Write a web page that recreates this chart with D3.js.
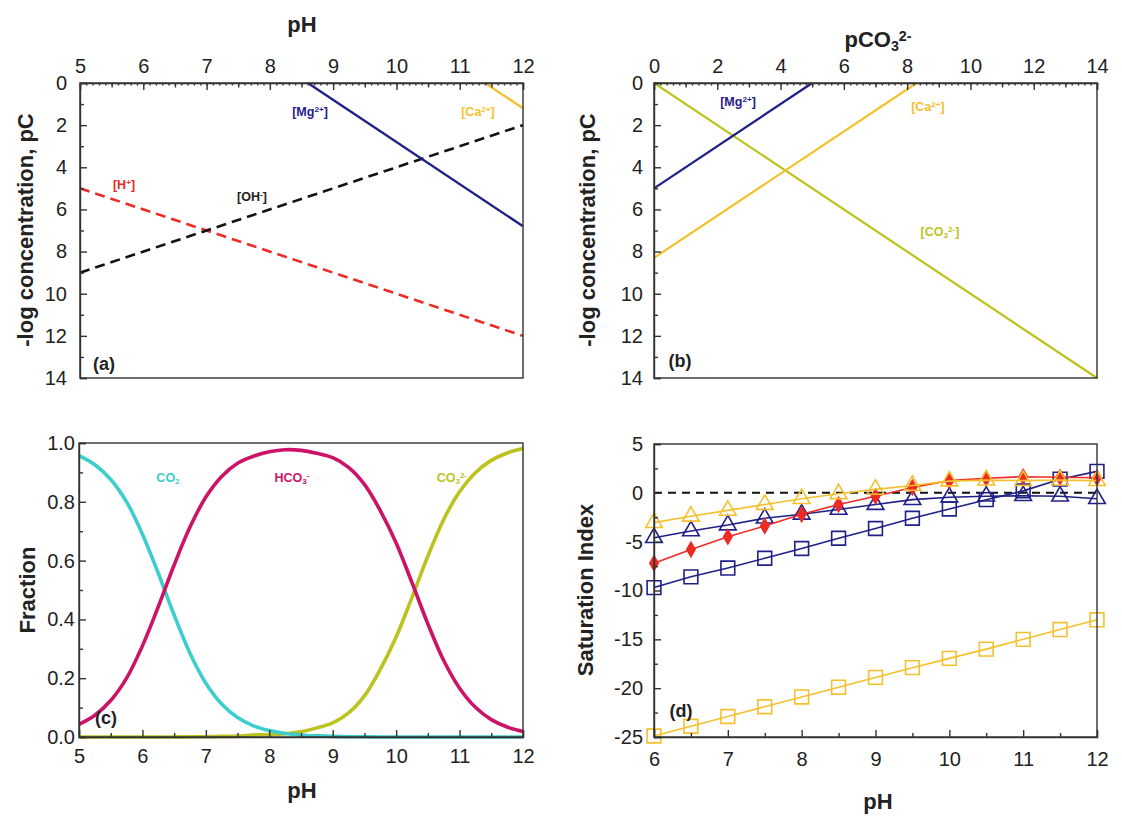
<!DOCTYPE html>
<html>
<head>
<meta charset="utf-8">
<script src="https://cdn.jsdelivr.net/npm/d3@7"></script>
<style>
  body { margin: 0; background: #fff; }
  svg { font-family: "Liberation Sans", Arial, sans-serif; }
  .tick text { font-size: 20px; fill: #222; }
  .domain, .tick line { stroke: #333; stroke-width: 1.4px; }
</style>
</head>
<body>
<svg id="fig" width="1122" height="817"></svg>
<script>
// panel (a): pC vs pH, line end points [pH, pC]
var aH   = [[5, 5], [12, 12]];
var aOH  = [[5, 9], [12, 2]];
var aMg  = [[8.6, 0], [12, 6.8]];
var aCa  = [[11.4, 0], [12, 1.2]];

// panel (b): pC vs pCO3
var bMg  = [[0, 5], [5, 0]];
var bCa  = [[0, 8.3], [8.3, 0]];
var bCO3 = [[0, 0], [14, 14]];

// panel (c): carbonate fractions
var pHc = [5, 5.25, 5.5, 5.75, 6, 6.25, 6.5, 6.75, 7, 7.25, 7.5, 7.75, 8, 8.25, 8.5,
           8.75, 9, 9.25, 9.5, 9.75, 10, 10.25, 10.5, 10.75, 11, 11.25, 11.5, 11.75, 12];
var fCO2  = [0.957, 0.926, 0.876, 0.80, 0.69, 0.557, 0.415, 0.285, 0.183, 0.112, 0.066, 0.038, 0.022, 0.012, 0.007,
             0.004, 0.002, 0.001, 0.001, 0, 0, 0, 0, 0, 0, 0, 0, 0, 0];
var fHCO3 = [0.043, 0.074, 0.124, 0.20, 0.31, 0.443, 0.585, 0.714, 0.816, 0.886, 0.931, 0.955, 0.970, 0.977, 0.975,
             0.965, 0.950, 0.917, 0.859, 0.770, 0.660, 0.525, 0.385, 0.260, 0.166, 0.101, 0.059, 0.034, 0.019];
var fCO3  = [0, 0, 0, 0, 0, 0, 0, 0.001, 0.001, 0.002, 0.003, 0.007, 0.008, 0.011, 0.018,
             0.031, 0.048, 0.082, 0.140, 0.230, 0.340, 0.475, 0.615, 0.740, 0.834, 0.899, 0.941, 0.966, 0.981];

// panel (d): saturation index
var pHd = [6, 6.5, 7, 7.5, 8, 8.5, 9, 9.5, 10, 10.5, 11, 11.5, 12];
var siGoldTri = [-3.05, -2.4, -1.8, -1.2, -0.6, -0.1, 0.35, 0.75, 1.2, 1.3, 1.25, 1.3, 1.25];
var siRedDia  = [-7.2, -5.8, -4.5, -3.4, -2.2, -1.2, -0.35, 0.55, 1.25, 1.5, 1.65, 1.6, 1.55];
var siNavyTri = [-4.6, -3.9, -3.3, -2.6, -2.2, -1.7, -1.2, -0.7, -0.45, -0.35, -0.3, -0.35, -0.6];
var siNavySq  = [-9.7, -8.6, -7.7, -6.7, -5.7, -4.65, -3.65, -2.6, -1.65, -0.7, 0.2, 1.4, 2.2];
var siGoldSq  = [-24.9, -23.9, -22.9, -21.9, -20.9, -19.9, -18.9, -17.9, -16.95, -16.0, -15.0, -14.0, -13.0];

var navy = '#1f2088', gold = '#f5c02e', red = '#ee2a24', olive = '#bcc31e',
    cyan = '#3ecdcd', magenta = '#cc1368';

var svg = d3.select('#fig');

// plain hyphen for negatives, like the original figure
function intFmt(v) { return String(Math.round(v)); }

function axisPair(g, axisFn, scale, majors, minors, pad, fmt, mids) {
  g.append('g').call(axisFn(scale).tickValues(majors).tickSize(-7).tickPadding(pad).tickFormat(fmt));
  if (mids) {
    g.append('g').call(axisFn(scale).tickValues(mids).tickSize(-4.5).tickFormat(''))
      .select('.domain').remove();
  }
  g.append('g').call(axisFn(scale).tickValues(minors).tickSize(mids ? -2.5 : -4).tickFormat(''))
    .select('.domain').remove();
}

function range(a, b, s) {
  var out = [];
  for (var v = a; v <= b + 1e-9; v += s) out.push(+v.toFixed(4));
  return out;
}

function frame(x0, y0, x1, y1) {
  svg.append('rect')
    .attr('x', x0).attr('y', y0).attr('width', x1 - x0).attr('height', y1 - y0)
    .attr('fill', 'none').attr('stroke', '#333').attr('stroke-width', 1.4);
}

// rich text with sub/superscripts
function rich(x, y, parts, color, size, anchor, rotate) {
  var t = svg.append('text')
    .attr('x', x).attr('y', y)
    .attr('fill', color).attr('font-size', size).attr('font-weight', 'bold')
    .attr('text-anchor', anchor || 'middle');
  if (rotate) t.attr('transform', 'rotate(-90,' + x + ',' + y + ')');
  parts.forEach(function(p) {
    var s = t.append('tspan').text(p[0]);
    if (p[1] === 'sup') s.attr('font-size', size * 0.65).attr('baseline-shift', '45%');
    if (p[1] === 'sub') s.attr('font-size', size * 0.65).attr('baseline-shift', '-25%');
  });
  return t;
}

function drawLine(g, pts, x, y, color, width, dash) {
  g.append('path')
    .datum(pts)
    .attr('d', d3.line().x(function(d) { return x(d[0]); }).y(function(d) { return y(d[1]); }))
    .attr('fill', 'none').attr('stroke', color).attr('stroke-width', width)
    .attr('stroke-dasharray', dash || null);
}

// ---------- panel (a)
var ax = d3.scaleLinear().domain([5, 12]).range([80, 523]);
var ay = d3.scaleLinear().domain([0, 14]).range([83, 378]);
var ga = svg.append('g');
drawLine(ga, aH, ax, ay, red, 2.6, '10,6');
drawLine(ga, aOH, ax, ay, '#111', 2.6, '10,6');
drawLine(ga, aMg, ax, ay, navy, 2.4);
drawLine(ga, aCa, ax, ay, gold, 2.4);
frame(80, 83, 523, 378);
axisPair(ga.append('g').attr('transform', 'translate(0,83)'), d3.axisTop, ax,
  range(5, 12, 1), range(5, 12, 0.1), 10, intFmt, range(5.5, 11.5, 1));
axisPair(ga.append('g').attr('transform', 'translate(80,0)'), d3.axisLeft, ay,
  range(0, 14, 2), range(1, 13, 2), 13, intFmt);
rich(302, 32, [['pH']], '#222', 22);
rich(33, 230, [['-log concentration, pC']], '#222', 22, 'middle', true);
rich(310, 116, [['[Mg'], ['2+', 'sup'], [']']], navy, 12.5);
rich(478, 116, [['[Ca'], ['2+', 'sup'], [']']], gold, 12.5);
rich(124, 189, [['[H'], ['+', 'sup'], [']']], red, 12.5);
rich(252, 201, [['[OH'], ['-', 'sup'], [']']], '#222', 12.5);
rich(104, 370, [['(a)']], '#222', 18);

// ---------- panel (b)
var bx = d3.scaleLinear().domain([0, 14]).range([654, 1097]);
var by = d3.scaleLinear().domain([0, 14]).range([83, 378]);
var gb = svg.append('g');
drawLine(gb, bCO3, bx, by, olive, 2.2);
drawLine(gb, bMg, bx, by, navy, 2.2);
drawLine(gb, bCa, bx, by, gold, 2.2);
frame(654, 83, 1097, 378);
axisPair(gb.append('g').attr('transform', 'translate(0,83)'), d3.axisTop, bx,
  range(0, 14, 2), range(0, 14, 0.2), 10, intFmt, range(1, 13, 2));
axisPair(gb.append('g').attr('transform', 'translate(654,0)'), d3.axisLeft, by,
  range(0, 14, 2), range(1, 13, 2), 11, intFmt);
rich(878, 47, [['pCO'], ['3', 'sub'], ['2-', 'sup']], '#222', 22);
rich(595, 230, [['-log concentration, pC']], '#222', 22, 'middle', true);
rich(738, 106, [['[Mg'], ['2+', 'sup'], [']']], navy, 12.5);
rich(928, 111, [['[Ca'], ['2+', 'sup'], [']']], gold, 12.5);
rich(940, 236, [['[CO'], ['3', 'sub'], ['2-', 'sup'], [']']], olive, 12.5);
rich(680, 367, [['(b)']], '#222', 18);

// ---------- panel (c)
var cx = d3.scaleLinear().domain([5, 12]).range([79, 523]);
var cy = d3.scaleLinear().domain([0, 1]).range([737, 443]);
var gc = svg.append('g');
var cLine = d3.line().curve(d3.curveCatmullRom)
  .x(function(d) { return cx(d[0]); }).y(function(d) { return cy(d[1]); });
[[fCO3, olive], [fCO2, cyan], [fHCO3, magenta]].forEach(function(s) {
  gc.append('path')
    .datum(pHc.map(function(p, i) { return [p, s[0][i]]; }))
    .attr('d', cLine).attr('fill', 'none').attr('stroke', s[1]).attr('stroke-width', 3.6);
});
frame(79, 443, 523, 737);
axisPair(gc.append('g').attr('transform', 'translate(0,737)'), d3.axisBottom, cx,
  range(5, 12, 1), range(5.5, 11.5, 1), 12, intFmt);
axisPair(gc.append('g').attr('transform', 'translate(79,0)'), d3.axisLeft, cy,
  range(0, 1, 0.2), range(0.1, 0.9, 0.2), 4, d3.format('.1f'));
rich(302, 798, [['pH']], '#222', 22);
rich(35, 590, [['Fraction']], '#222', 22, 'middle', true);
rich(168, 482, [['CO'], ['2', 'sub']], cyan, 12.5);
rich(292, 482, [['HCO'], ['3', 'sub'], ['-', 'sup']], magenta, 12.5);
rich(452, 482, [['CO'], ['3', 'sub'], ['2-', 'sup']], olive, 12.5);
rich(106, 724, [['(c)']], '#222', 18);

// ---------- panel (d)
var dx = d3.scaleLinear().domain([6, 12]).range([654, 1097]);
var dy = d3.scaleLinear().domain([-25, 5]).range([737, 444]);
var gd = svg.append('g');
gd.append('line')
  .attr('x1', dx(6)).attr('x2', dx(12)).attr('y1', dy(0)).attr('y2', dy(0))
  .attr('stroke', '#111').attr('stroke-width', 2).attr('stroke-dasharray', '8,6');
var dLine = d3.line().x(function(d) { return dx(d[0]); }).y(function(d) { return dy(d[1]); });
var dSeries = [
  { v: siGoldSq,  c: gold,  sym: d3.symbolSquare,   size: 190, fill: '#fff' },
  { v: siNavySq,  c: navy,  sym: d3.symbolSquare,   size: 190, fill: '#fff' },
  { v: siNavyTri, c: navy,  sym: d3.symbolTriangle, size: 120, fill: '#fff' },
  { v: siRedDia,  c: red,   sym: d3.symbolDiamond,  size: 60,  fill: red },
  { v: siGoldTri, c: gold,  sym: d3.symbolTriangle, size: 120, fill: '#fff' }
];
dSeries.forEach(function(s) {
  var pts = pHd.map(function(p, i) { return [p, s.v[i]]; });
  var sg = gd.append('g');
  sg.append('path').datum(pts).attr('d', dLine)
    .attr('fill', 'none').attr('stroke', s.c).attr('stroke-width', 1.6);
  sg.selectAll('path.m').data(pts).enter().append('path')
    .attr('class', 'm')
    .attr('transform', function(d) { return 'translate(' + dx(d[0]) + ',' + dy(d[1]) + ')'; })
    .attr('d', d3.symbol().type(s.sym).size(s.size))
    .attr('fill', s.fill).attr('fill-opacity', s.fill === '#fff' ? 0 : 1)
    .attr('stroke', s.c).attr('stroke-width', 1.6);
});
frame(654, 444, 1097, 737);
axisPair(gd.append('g').attr('transform', 'translate(0,737)'), d3.axisBottom, dx,
  range(6, 12, 1), range(6.5, 11.5, 1), 15, intFmt);
axisPair(gd.append('g').attr('transform', 'translate(654,0)'), d3.axisLeft, dy,
  range(-25, 5, 5), range(-22.5, 2.5, 5), 11, intFmt);
rich(878, 809, [['pH']], '#222', 22);
rich(593, 590, [['Saturation Index']], '#222', 22, 'middle', true);
rich(681, 717, [['(d)']], '#222', 18);
</script>
</body>
</html>
